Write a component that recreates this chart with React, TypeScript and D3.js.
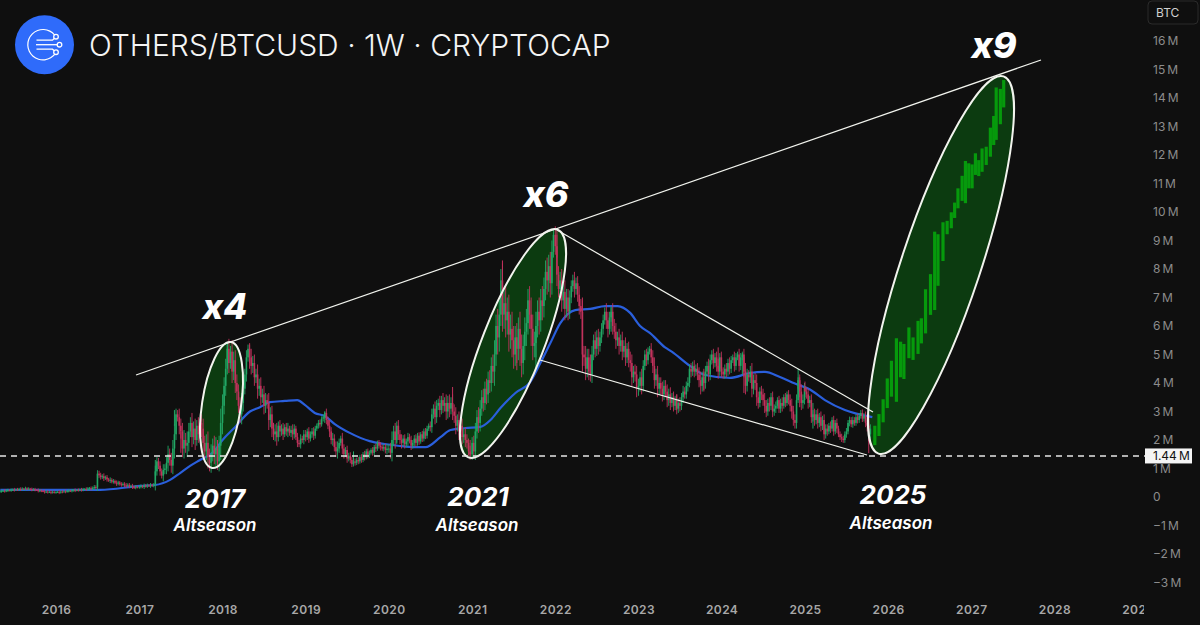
import React, { useRef, useEffect } from 'react';
import * as d3 from 'd3';

// weekly closes, in millions, one list per calendar year
const closes2015 = [.2,.21,.22,.21,.23,.24,.23,.25,.26,.25,.27,.26,.28,.27,.29,.28,.3,.28,.29,.27,.26,.27,.25,.24,.22,.23,.21,.2,.18,.19,.17,.18,.16,.18,.17];
const closes2016 = [.17,.18,.16,.19,.18,.2,.19,.21,.22,.21,.23,.24,.23,.25,.24,.26,.25,.27,.28,.27,.3,.31,.29,.32,.35,.33,.82,.76,.7,.73,.66,.69,.62,.58,.6,.54,.56,.5,.47,.51,.45,.43,.46,.41,.4,.43,.37,.39,.35,.33,.36,.34];
const closes2017 = [.36,.38,.35,.4,.38,.41,.39,.42,.4,.43,.9,1.25,1.1,.9,.75,.95,1.0,1.2,1.5,1.3,1.1,1.7,2.2,2.9,2.8,2.5,2.3,1.7,2.0,1.8,1.9,2.3,2.6,2.1,2.4,2.0,2.5,2.2,2.6,2.4,1.9,1.6,1.9,1.4,1.2,1.5,1.8,1.5,1.7,1.25,1.8,2.6];
const closes2018 = [3.2,3.9,4.5,5.2,4.7,5.1,4.4,4.8,4.0,3.7,3.2,2.9,3.3,3.8,4.3,4.9,5.2,4.9,4.6,4.7,4.2,4.3,3.8,3.9,3.5,3.6,3.2,3.4,3.3,2.7,2.9,2.4,2.2,2.3,2.1,2.5,2.3,2.4,2.2,2.45,2.3,2.4,2.25,2.35,2.2,2.4,2.1,1.9,1.85,2.05,2.0,2.2];
const closes2019 = [2.1,2.3,2.05,2.2,2.3,2.15,2.4,2.5,2.6,2.55,2.75,2.8,2.95,2.7,2.5,2.3,2.0,2.05,1.75,1.6,1.7,1.9,2.05,1.7,1.5,1.65,1.35,1.45,1.3,1.15,1.25,1.2,1.3,1.25,1.4,1.3,1.5,1.4,1.6,1.45,1.55,1.65,1.55,1.75,1.7,1.9,1.8,1.75,1.7,1.75,1.65,1.7];
const closes2020 = [1.7,1.55,2.0,2.3,2.0,2.5,2.2,2.0,1.9,2.05,1.85,1.95,2.1,2.0,1.8,1.9,2.05,1.9,2.15,1.95,2.2,2.05,2.3,2.15,2.4,2.5,2.45,2.9,3.1,2.8,3.2,3.3,3.05,3.4,3.2,3.3,3.0,3.3,3.1,3.3,3.0,2.85,2.5,2.7,2.3,2.5,2.1,2.2,2.0,1.9,1.6,1.5];
const closes2021 = [1.9,1.6,2.3,2.8,2.6,3.1,3.5,3.3,3.8,3.6,4.1,4.0,4.6,4.4,5.0,6.0,5.6,6.4,7.6,6.4,6.8,6.2,6.5,5.7,5.9,5.5,5.0,5.6,5.2,5.9,5.2,4.7,5.3,5.8,6.1,6.9,6.4,5.9,5.3,5.4,6.0,6.5,6.2,6.9,6.7,7.3,7.9,7.6,8.1,7.5,8.6,9.2];
const closes2022 = [8.8,7.8,7.3,7.6,6.9,7.2,6.6,7.0,6.5,7.0,7.4,7.6,7.3,7.5,7.1,6.7,6.5,5.0,4.9,4.5,4.9,4.4,4.3,5.0,5.5,5.2,5.6,5.3,5.6,5.9,6.2,6.5,6.2,5.9,6.3,6.5,6.0,5.8,5.5,5.6,5.3,5.5,5.1,5.3,4.9,5.2,4.8,4.7,4.2,4.4,4.3,3.8];
const closes2023 = [3.9,4.2,3.9,4.6,5.0,4.8,5.1,5.2,4.9,4.6,4.1,4.3,3.8,4.0,3.8,3.6,3.9,3.7,3.4,3.6,3.3,3.5,3.2,3.4,3.1,3.3,3.2,3.5,3.7,3.6,3.9,4.0,4.5,4.4,4.6,4.4,4.5,4.3,4.1,3.9,4.2,4.0,4.4,4.6,4.3,4.8,5.0,4.7,4.9,4.6,4.4,4.9,4.5];
const closes2024 = [4.4,4.3,4.5,4.4,4.7,4.5,4.8,4.9,4.6,4.9,5.0,4.6,4.9,5.0,4.4,3.9,4.3,4.2,4.4,3.8,4.1,4.0,3.5,3.3,3.7,3.6,3.4,3.2,3.0,3.3,3.2,3.5,3.0,3.1,3.2,3.4,3.1,3.3,3.2,3.5,3.3,3.6,3.4,3.2,3.0,2.7,2.6,3.4,4.1,3.7,3.3,3.4,3.85];
const closes2025 = [3.7,3.6,3.3,3.4,2.8,2.9,2.7,2.9,2.6,2.8,2.5,2.7,2.2,2.4,2.3,2.5,2.4,2.7,2.3,2.6,2.4,2.2,2.1,2.05,2.0,2.2,2.3,2.6,2.7,2.55,2.7,2.6,2.8,2.7,2.85,2.95,2.75,2.85,2.6,2.5,2.2,2.4];
const closeRuns = [closes2015, closes2016, closes2017, closes2018, closes2019, closes2020, closes2021, closes2022, closes2023, closes2024, closes2025];
const runStarts = ['2015-04-30', '2016-01-01', '2017-01-01', '2018-01-01', '2019-01-01', '2020-01-01', '2021-01-01', '2022-01-01', '2023-01-01', '2024-01-01', '2025-01-01'];

// how far each week's wick runs past its body, estimated year by year
const reach2015 = [.04,.05,.03,.06,.04,.05,.03,.05,.04,.06,.03,.05,.04,.06,.05,.03,.06,.04,.05,.03,.06,.04,.05,.03,.06,.05,.04,.03,.06,.04,.05,.03,.06,.04,.05];
const reach2016 = [.05,.03,.06,.04,.05,.03,.06,.04,.05,.03,.05,.04,.06,.03,.05,.04,.06,.05,.03,.06,.05,.04,.06,.05,.07,.06,.12,.1,.09,.07,.1,.06,.08,.05,.09,.06,.07,.05,.08,.06,.05,.07,.05,.06,.08,.05,.06,.04,.07,.05,.06,.04];
const reach2017 = [.05,.06,.04,.07,.05,.06,.04,.07,.05,.06,.2,.15,.12,.15,.1,.2,.15,.2,.3,.2,.25,.3,.35,.2,.15,.3,.25,.3,.35,.25,.4,.3,.2,.35,.25,.35,.2,.3,.15,.3,.35,.25,.3,.4,.3,.35,.25,.35,.4,.3,.35,.5];
const reach2018 = [.4,.3,.35,.2,.35,.2,.4,.3,.35,.3,.25,.3,.35,.3,.2,.25,.15,.2,.3,.25,.3,.2,.35,.25,.3,.2,.3,.25,.2,.35,.25,.3,.2,.25,.3,.15,.2,.15,.2,.1,.15,.2,.1,.15,.2,.15,.1,.15,.1,.15,.1,.15];
const reach2019 = [.15,.1,.15,.1,.12,.15,.1,.08,.1,.12,.08,.1,.05,.15,.12,.2,.15,.2,.15,.2,.25,.15,.1,.2,.15,.1,.15,.1,.12,.1,.08,.1,.08,.1,.08,.1,.08,.12,.08,.1,.08,.06,.1,.08,.12,.08,.1,.12,.08,.1,.12,.15];
const reach2020 = [.15,.2,.3,.2,.3,.15,.2,.15,.2,.12,.15,.1,.15,.12,.15,.1,.12,.15,.1,.12,.08,.12,.1,.12,.1,.08,.15,.2,.15,.25,.2,.15,.25,.15,.25,.2,.3,.25,.3,.2,.3,.25,.3,.2,.3,.2,.25,.2,.25,.2,.15,.2];
const reach2021 = [.2,.25,.3,.25,.35,.3,.25,.3,.25,.35,.3,.35,.3,.4,.5,.4,.6,.5,.4,.6,.5,.6,.5,.6,.5,.6,.5,.4,.5,.4,.6,.5,.4,.5,.5,.4,.5,.6,.5,.4,.5,.4,.5,.4,.5,.4,.4,.5,.4,.5,.4,.2];
const reach2022 = [.3,.4,.3,.3,.4,.3,.4,.3,.3,.25,.2,.2,.3,.2,.25,.3,.25,.4,.3,.4,.3,.3,.25,.3,.2,.3,.25,.3,.2,.2,.2,.15,.3,.3,.2,.15,.3,.25,.3,.2,.3,.2,.3,.2,.3,.2,.25,.3,.3,.2,.25,.3];
const reach2023 = [.25,.2,.3,.2,.15,.2,.15,.1,.2,.25,.3,.2,.3,.2,.2,.25,.2,.2,.25,.2,.25,.15,.2,.15,.2,.15,.2,.15,.2,.15,.15,.2,.15,.2,.15,.2,.15,.2,.25,.3,.2,.3,.2,.15,.25,.2,.15,.2,.15,.2,.25,.15,.2];
const reach2024 = [.2,.15,.15,.2,.15,.2,.15,.1,.2,.15,.1,.2,.15,.1,.2,.3,.2,.15,.2,.3,.2,.25,.3,.2,.15,.2,.2,.25,.2,.15,.2,.15,.2,.15,.15,.1,.15,.15,.2,.1,.15,.1,.15,.2,.25,.2,.2,.2,.1,.2,.25,.2,.15];
const reach2025 = [.2,.15,.2,.15,.2,.15,.2,.15,.2,.15,.2,.15,.2,.15,.15,.1,.15,.1,.15,.1,.15,.1,.1,.12,.1,.1,.12,.1,.12,.1,.12,.1,.1,.12,.1,.1,.12,.1,.15,.2,.25,.15];
const reachRuns = [reach2015, reach2016, reach2017, reach2018, reach2019, reach2020, reach2021, reach2022, reach2023, reach2024, reach2025];

// the long wicks that stick out of the bodies
const wickYears = [2017.19, 2017.43, 2017.5, 2017.94, 2018.06, 2018.32, 2018.61, 2019.23, 2019.57, 2020.1, 2020.77, 2020.98, 2021.36, 2021.53, 2021.77, 2022.01, 2022.33, 2022.43, 2022.68, 2023.46, 2023.78, 2023.96, 2024.25, 2024.26, 2024.91, 2024.94, 2025.09, 2025.76];
const wickHighs = [1.3, 3.05, 2.3, 2.0, 5.4, 5.35, 2.6, 3.0, 1.6, 2.35, 3.86, 2.0, 8.3, 5.6, 5.8, 9.4, 7.0, 5.0, 6.67, 3.6, 4.4, 5.25, 5.05, 4.9, 4.5, 4.2, 3.3, 2.9];
const wickLows = [.75, 2.5, 1.55, 1.18, 4.6, 4.5, 2.0, 2.6, 1.2, 1.9, 3.0, 1.44, 6.0, 4.45, 4.45, 8.4, 4.4, 4.35, 5.8, 3.05, 3.75, 4.5, 4.3, 3.65, 3.8, 3.15, 2.4, 1.54];

const maYears = [2015.33, 2016.53, 2017.01, 2017.19, 2017.37, 2017.49, 2017.61, 2017.73, 2017.89, 2018.0, 2018.15, 2018.33, 2018.45, 2018.57, 2018.75, 2018.9, 2018.99, 2019.11, 2019.23, 2019.35, 2019.53, 2019.77, 2019.95, 2020.13, 2020.31, 2020.44, 2020.62, 2020.74, 2020.92, 2021.1, 2021.22, 2021.34, 2021.52, 2021.7, 2021.82, 2021.94, 2022.06, 2022.24, 2022.42, 2022.6, 2022.75, 2022.9, 2023.02, 2023.14, 2023.32, 2023.4, 2023.62, 2023.8, 2024.1, 2024.34, 2024.52, 2024.7, 2024.88, 2025.06, 2025.24, 2025.48, 2025.81];
const maValues = [.25, .25, .39, .42, .6, .84, 1.09, 1.3, 1.58, 2.0, 2.45, 3.0, 3.15, 3.33, 3.37, 3.4, 3.23, 2.95, 2.84, 2.56, 2.25, 1.96, 1.86, 1.79, 1.75, 1.75, 2.1, 2.35, 2.42, 2.46, 2.7, 3.12, 3.65, 4.04, 4.7, 5.4, 6.1, 6.56, 6.6, 6.7, 6.7, 6.46, 6.0, 5.75, 5.25, 5.1, 4.6, 4.28, 4.18, 4.35, 4.39, 4.21, 3.98, 3.77, 3.4, 3.05, 2.8];

// hand drawn projection bars
const projYears = [2025.84, 2025.89, 2025.94, 2025.99, 2026.04, 2026.1, 2026.15, 2026.19, 2026.25, 2026.3, 2026.36, 2026.4, 2026.45, 2026.51, 2026.56, 2026.6, 2026.66, 2026.71, 2026.76, 2026.8, 2026.84, 2026.89, 2026.93, 2026.97, 2027.01, 2027.05, 2027.09, 2027.13, 2027.18, 2027.23, 2027.27, 2027.3, 2027.35, 2027.39];
const projLows = [1.82, 2.14, 2.62, 3.12, 3.52, 3.34, 4.2, 4.14, 4.87, 4.81, 5.02, 5.39, 5.74, 6.39, 6.56, 7.41, 8.28, 9.22, 9.43, 9.79, 10.13, 10.39, 10.31, 10.83, 10.83, 11.3, 11.26, 11.41, 11.65, 11.94, 12.35, 12.53, 13.08, 13.67];
const projHighs = [2.5, 2.91, 3.43, 4.16, 4.78, 5.57, 5.45, 5.37, 5.95, 5.6, 6.18, 6.27, 7.29, 7.82, 9.31, 9.22, 9.64, 9.69, 9.99, 10.33, 10.83, 11.27, 11.79, 11.71, 11.67, 12.06, 11.82, 12.23, 12.29, 12.96, 13.37, 14.37, 14.32, 14.63];

const yearTicks = [2016, 2017, 2018, 2019, 2020, 2021, 2022, 2023, 2024, 2025, 2026, 2027, 2028, 2029];
const priceTicks = [16, 15, 14, 13, 12, 11, 10, 9, 8, 7, 6, 5, 4, 3, 2, 1, 0, -1, -2, -3];
const floorPrice = 1.44;

const width = 1200;
const height = 625;

const yearDate = (y: number) => {
  const whole = Math.floor(y);
  const a = Date.UTC(whole, 0, 1);
  const b = Date.UTC(whole + 1, 0, 1);
  return new Date(a + (b - a) * (y - whole));
};

function App(): React.ReactElement {
  const ref = useRef<SVGSVGElement | null>(null);

  useEffect(() => {
    if (!ref.current) return;
    const svg = d3.select(ref.current);
    svg.selectAll('*').remove();

    const x = d3.scaleUtc().domain([yearDate(2016), yearDate(2028)]).range([56, 1054.4]);
    const y = d3.scaleLinear().domain([16, 0]).range([41, 497]);

    const candles: { date: Date; open: number; close: number; high: number; low: number }[] = [];
    let prev = closes2015[0];
    closeRuns.forEach((run, r) => {
      const start = new Date(runStarts[r] + 'T00:00:00Z');
      run.forEach((close, w) => {
        const reach = reachRuns[r][w];
        candles.push({
          date: d3.utcDay.offset(start, w * 7),
          open: prev,
          close,
          high: Math.max(prev, close) + reach,
          low: Math.min(prev, close) - reach,
        });
        prev = close;
      });
    });

    const up = '#22a765';
    const down = '#c2325c';
    const line = '#f2f4ee';

    svg.append('rect').attr('width', width).attr('height', height).attr('fill', '#0f0f0f');

    const defs = svg.append('defs');
    defs.append('clipPath').attr('id', 'timeClip').append('rect').attr('x', 0).attr('y', 590).attr('width', 1144).attr('height', 35);

    // altseason ellipses: [centre x, centre y, long radius, short radius, tilt]
    const ellipses: [number, number, number, number, number][] = [
      [221.5, 405, 63.6, 19.5, -81.5],
      [513, 343.5, 122.3, 30.8, -68.6],
      [941, 265, 198.7, 39.6, -71.65],
    ];
    const drawEllipses = (fill: string, stroke: string) => {
      svg.append('g').selectAll('ellipse').data(ellipses).join('ellipse')
        .attr('rx', d => d[2])
        .attr('ry', d => d[3])
        .attr('transform', d => `translate(${d[0]},${d[1]}) rotate(${d[4]})`)
        .attr('fill', fill)
        .attr('stroke', stroke)
        .attr('stroke-width', 2);
    };
    drawEllipses('#0c3b10', 'none');

    // moving average
    const maLine = d3.line<number>()
      .x((_, i) => x(yearDate(maYears[i])))
      .y(d => y(d))
      .curve(d3.curveMonotoneX);
    svg.append('path')
      .attr('d', maLine(maValues) ?? '')
      .attr('fill', 'none')
      .attr('stroke', '#2a5fdc')
      .attr('stroke-width', 2.2);

    // wicks
    svg.append('g').selectAll('line').data(candles).join('line')
      .attr('x1', d => x(d.date)).attr('x2', d => x(d.date))
      .attr('y1', d => y(d.high)).attr('y2', d => y(d.low))
      .attr('stroke', d => (d.close >= d.open ? up : down))
      .attr('stroke-width', 0.9);

    const longWicks = wickYears.map((yr, i) => {
      const date = yearDate(yr);
      const c = d3.least(candles, d => Math.abs(+d.date - +date))!;
      return { date: c.date, high: wickHighs[i], low: wickLows[i], up: c.close >= c.open };
    });
    svg.append('g').selectAll('line').data(longWicks).join('line')
      .attr('x1', d => x(d.date)).attr('x2', d => x(d.date))
      .attr('y1', d => y(d.high)).attr('y2', d => y(d.low))
      .attr('stroke', d => (d.up ? up : down))
      .attr('stroke-width', 1);

    // bodies
    svg.append('g').selectAll('rect').data(candles).join('rect')
      .attr('x', d => x(d.date) - 0.8)
      .attr('width', 1.6)
      .attr('y', d => y(Math.max(d.open, d.close)))
      .attr('height', d => Math.max(1, Math.abs(y(d.open) - y(d.close))))
      .attr('fill', d => (d.close >= d.open ? up : down));

    // projection bars
    svg.append('g').selectAll('rect').data(projYears).join('rect')
      .attr('x', d => x(yearDate(d)) - 1.6)
      .attr('width', 3.2)
      .attr('y', (_, i) => y(projHighs[i]))
      .attr('height', (_, i) => y(projLows[i]) - y(projHighs[i]))
      .attr('fill', '#069a0c');

    // trend lines, end points taken in chart coordinates
    const trends: [number, number, number, number][] = [
      [136, 375, 1041, 60],
      [557, 230, 873, 412],
      [540, 360, 867, 455],
    ];
    svg.append('g').selectAll('line').data(trends).join('line')
      .attr('x1', d => d[0]).attr('y1', d => d[1])
      .attr('x2', d => d[2]).attr('y2', d => d[3])
      .attr('stroke', line)
      .attr('stroke-width', 1.2);

    drawEllipses('none', line);

    // floor dashed line
    svg.append('line')
      .attr('x1', 0).attr('x2', 1145)
      .attr('y1', y(floorPrice)).attr('y2', y(floorPrice))
      .attr('stroke', '#e6e6e6')
      .attr('stroke-width', 1.5)
      .attr('stroke-dasharray', '6 5');

    // axes
    const fmtPrice = (d: number) => (d === 0 ? '0' : `${d < 0 ? '\u2212' : ''}${Math.abs(d)}\u2009M`);
    const yAxis = svg.append('g')
      .attr('transform', 'translate(1153,0)')
      .call(d3.axisRight(y).tickValues(priceTicks).tickSize(0).tickPadding(0).tickFormat(d => fmtPrice(+d)));
    yAxis.select('.domain').remove();
    yAxis.selectAll('text')
      .attr('fill', '#8c8c8c')
      .style('font-family', 'Inter')
      .style('font-size', '12px');

    const xAxis = svg.append('g')
      .attr('clip-path', 'url(#timeClip)')
      .append('g')
      .attr('transform', 'translate(0,605)')
      .call(d3.axisBottom(x).tickValues(yearTicks.map(yearDate)).tickSize(0).tickPadding(0).tickFormat(d => String((d as Date).getUTCFullYear())));
    xAxis.select('.domain').remove();
    xAxis.selectAll('text')
      .attr('fill', '#a8a8a8')
      .style('font-family', 'Inter')
      .style('font-weight', '600')
      .style('font-size', '12px')
      .style('letter-spacing', '0.4px');

    // price tag and currency box
    svg.append('rect').attr('x', 1145).attr('y', y(floorPrice) - 7.5).attr('width', 47).attr('height', 15).attr('fill', '#f5f5f5');
    svg.append('text').attr('x', 1153).attr('y', y(floorPrice) + 4.5)
      .attr('fill', '#111').style('font-family', 'Inter').style('font-size', '12px')
      .text(`${floorPrice}\u2009M`);
    svg.append('rect').attr('x', 1148).attr('y', 1).attr('width', 50).attr('height', 23).attr('rx', 4)
      .attr('fill', 'none').attr('stroke', '#2b2b2b');
    svg.append('text').attr('x', 1156).attr('y', 17)
      .attr('fill', '#d0d0d0').style('font-family', 'Inter').style('font-size', '12px')
      .text('BTC');

    // logo
    const logo = svg.append('g').attr('transform', 'translate(44.5,44.7)');
    logo.append('circle').attr('r', 29.5).attr('fill', '#2f6bfa');
    const ring = d3.arc()({ innerRadius: 14.6, outerRadius: 15.8, startAngle: Math.PI * 0.7, endAngle: Math.PI * 2.28 });
    logo.append('path').attr('d', ring ?? '').attr('transform', 'translate(-1.5,0)').attr('fill', '#fff');
    const nodes: [number, number, number, number, number][] = [
      [-8, -4.5, 8, 11.5, -8],
      [-8.5, 0, 12, 15, 0],
      [-8, 4.5, 8, 11.5, 7.5],
    ];
    logo.selectAll('path.lead').data(nodes).join('path').attr('class', 'lead')
      .attr('d', d => `M${d[0]},${d[1]}H${d[2]}L${d[3]},${d[4]}`)
      .attr('fill', 'none').attr('stroke', '#fff').attr('stroke-width', 1.3);
    logo.selectAll('circle.node').data(nodes).join('circle').attr('class', 'node')
      .attr('cx', d => d[3]).attr('cy', d => d[4]).attr('r', 2.3)
      .attr('fill', '#2f6bfa').attr('stroke', '#fff').attr('stroke-width', 1.3);

    svg.append('text').attr('x', 89).attr('y', 56)
      .attr('fill', '#f4f4f4')
      .style('font-family', 'Inter').style('font-weight', '300').style('font-size', '30px')
      .text('OTHERS/BTCUSD \u00b7 1W \u00b7 CRYPTOCAP');

    // annotations
    const notes: [string, number, number, number, number][] = [
      ['x4', 225, 319, 35, 800],
      ['x6', 546, 207, 36, 800],
      ['x9', 994, 58, 36, 800],
      ['2017', 215, 508, 26, 700],
      ['2021', 478, 506, 26, 700],
      ['2025', 893, 504, 26, 700],
      ['Altseason', 215, 531, 17, 600],
      ['Altseason', 477, 531, 17, 600],
      ['Altseason', 891, 529, 17, 600],
    ];
    svg.append('g').selectAll('text').data(notes).join('text')
      .attr('x', d => d[1]).attr('y', d => d[2])
      .attr('text-anchor', 'middle')
      .attr('fill', '#ffffff')
      .style('font-family', 'Inter')
      .style('font-style', 'italic')
      .style('font-size', d => `${d[3]}px`)
      .style('font-weight', d => d[4])
      .text(d => d[0]);
  }, []);

  return <svg ref={ref} width={width} height={height} style={{ position: 'absolute', left: 0, top: 0, display: 'block' }} />;
}

export default App;
